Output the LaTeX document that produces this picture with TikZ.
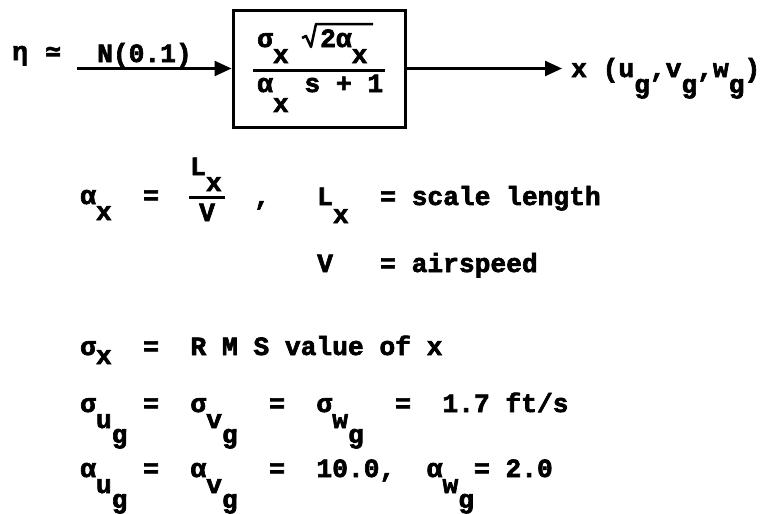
\documentclass[tikz,border=0pt]{standalone}
\usepackage{fontspec}
\usepackage{tikz}
\usetikzlibrary{arrows.meta,calc}
\newfontfamily\twfont[FakeBold=2.5]{Liberation Mono}
\newfontfamily\twsym[FakeBold=2.5]{DejaVu Sans Mono}
\newcommand\twsize{\fontsize{26.25pt}{30pt}\selectfont}
\newcommand\sub[2][16pt]{\raisebox{-#1}{#2}}
\newcommand\subb[1]{\raisebox{-31pt}{#1}}
\tikzset{
  tw/.style={anchor=base west,inner sep=0pt,font=\twfont\bfseries\twsize},
  blk/.style={draw,line width=3pt,minimum width=172pt,minimum height=117pt,inner sep=0pt},
  arr/.style={-{Triangle[length=17pt,width=15pt]},line width=2.5pt},
  bar/.style={line width=3pt},
  rad/.style={line width=2.5pt,line join=round},
}
\begin{document}
\begin{tikzpicture}[x=1pt,y=-1pt]
  \useasboundingbox (0,0) rectangle (764,514);

  \node[blk] (gen) at (319,68.5) {};
  \node[tw] (num) at (257,47) {σ\sub{x}~~2α\sub{x}};
  \draw[rad] (302,38) -- (306,36) -- (311,47) -- (316,24) -- (373,24);
  \draw[bar] (253,70) -- (385,70);
  \node[tw] (den) at (257,92) {α\sub[20pt]{x}~s~+~1};

  \node[tw] (eta) at (12,60) {η};
  \node[tw,font=\twsym\bfseries\twsize] (sim) at (45,60) {≃};
  \node[tw] (noise) at (97,62) {N(0.1)};
  \coordinate (src) at (77,68.5);
  \draw[arr] (src) -- (src -| gen.west);

  \node[tw] (out) at (571,77) {x~(u\sub{g},v\sub{g},w\sub{g})};
  \draw[arr] (gen.east) -- ($(gen.east -| out.west)+(-9,0)$);

  \node[tw] (ax) at (80,204) {α\sub{x}~~=};
  \node[tw] (lx) at (190,175) {L\sub{x}};
  \draw[bar] (189,197) -- (225,197);
  \node[tw] (vv) at (199,221) {V};
  \node[tw] (cm) at (254,205) {,};
  \node[tw] (scl) at (317,205) {L\sub[18pt]{x}~~=~scale~length};
  \node[tw] (air) at (317,272) {V~~~=~airspeed};

  \node[tw] (rms) at (80,355) {σ\sub[9pt]{x}~~=~~R~M~S~value~of~x};
  \node[tw] (sig) at (80,412) {σ\sub{u}\subb{g}~=~~σ\sub{v}\subb{g}~~=~~σ\sub{w}\subb{g}~~=~~1.7~ft/s};
  \node[tw] (alp) at (80,477) {α\sub{u}\subb{g}~=~~α\sub{v}\subb{g}~~=~~10.0,~~α\sub{w}\subb{g}=~2.0};
\end{tikzpicture}
\end{document}
